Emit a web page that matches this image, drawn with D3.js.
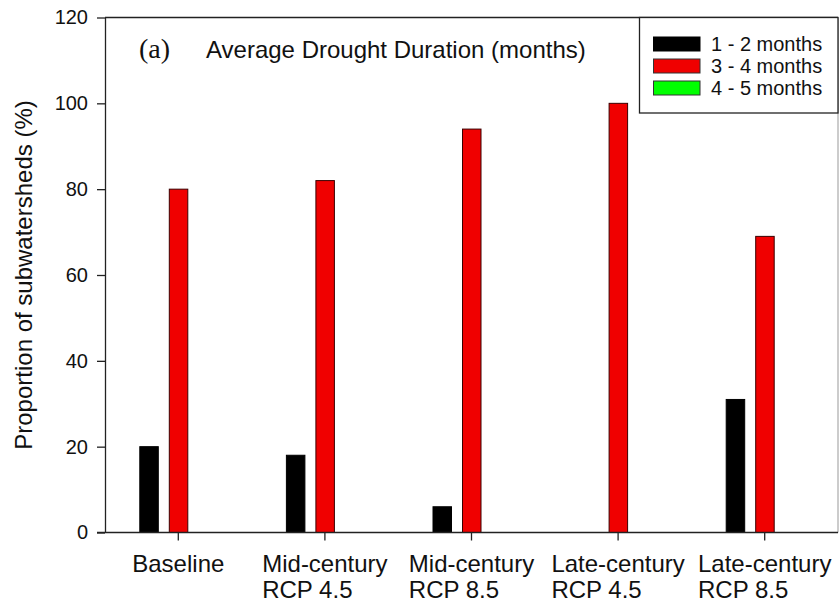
<!DOCTYPE html>
<html>
<head>
<meta charset="utf-8">
<script src="https://cdn.jsdelivr.net/npm/d3@7/dist/d3.min.js"></script>
<style>
  html, body { margin: 0; padding: 0; background: #fff; }
  svg { display: block; font-family: Arial, "Liberation Sans", Helvetica, sans-serif; }
</style>
</head>
<body>
<svg id="chart" width="839" height="607"></svg>
<script>
// Scenario groups on the x axis (two-line labels)
const categories = ["Baseline", "Mid-century RCP 4.5", "Mid-century RCP 8.5", "Late-century RCP 4.5", "Late-century RCP 8.5"];
const categoryLines = [["Baseline"], ["Mid-century", "RCP 4.5"], ["Mid-century", "RCP 8.5"], ["Late-century", "RCP 4.5"], ["Late-century", "RCP 8.5"]];

// Duration classes
const series = ["1 - 2 months", "3 - 4 months", "4 - 5 months"];
const seriesColors = ["#000000", "#f00000", "#00ff00"];

// Proportion of subwatersheds (%) per class, one value per scenario
const values1to2 = [20, 18, 6, 0, 31];
const values3to4 = [80, 82, 94, 100, 69];
const values4to5 = [0, 0, 0, 0, 0];
const seriesValues = [values1to2, values3to4, values4to5];

const yTicks = [0, 20, 40, 60, 80, 100, 120];

const svg = d3.select("#chart");
const plotLeft = 105, plotRight = 838, plotTop = 17.5, plotBottom = 532.5;

const x = d3.scaleBand().domain(categories).range([plotLeft, plotRight]).padding(0);
const xs = d3.scaleBand().domain(series).range([-44, 44.5]).padding(0);
const barW = 18.5;
const y = d3.scaleLinear().domain([0, 120]).range([plotBottom, plotTop]);

// Bars
const rows = [];
categories.forEach((c, i) => {
  series.forEach((s, j) => rows.push({ cat: c, ser: s, idx: j, v: seriesValues[j][i] }));
});
svg.append("g").selectAll("rect").data(rows.filter(d => d.v > 0)).join("rect")
  .attr("x", d => x(d.cat) + x.bandwidth() / 2 + xs(d.ser) + xs.bandwidth() / 2 - barW / 2)
  .attr("y", d => y(d.v))
  .attr("width", barW)
  .attr("height", d => y(0) - y(d.v))
  .attr("fill", d => seriesColors[d.idx])
  .attr("stroke", d => d.idx === 0 ? "#000" : "#3a0000")
  .attr("stroke-width", 1);

// Frame: top and right edges
svg.append("line").attr("x1", plotLeft).attr("x2", plotRight).attr("y1", plotTop).attr("y2", plotTop)
  .attr("stroke", "#222").attr("stroke-width", 1.3);
svg.append("line").attr("x1", plotRight).attr("x2", plotRight).attr("y1", plotTop).attr("y2", plotBottom)
  .attr("stroke", "#999").attr("stroke-width", 1);

// Y axis
const yAxis = svg.append("g").attr("transform", `translate(${plotLeft},0)`)
  .call(d3.axisLeft(y).tickValues(yTicks).tickSize(8).tickPadding(9).tickSizeOuter(0));
yAxis.selectAll("text").attr("font-size", 20).attr("fill", "#111").style("font-family", "Arial, 'Liberation Sans', sans-serif");
yAxis.selectAll("line, path").attr("stroke", "#222").attr("stroke-width", 1.3);

// X axis
const xAxis = svg.append("g").attr("transform", `translate(0,${plotBottom})`)
  .call(d3.axisBottom(x).tickSize(8).tickSizeOuter(0).tickFormat(""));
xAxis.select(".domain").attr("d", `M${plotLeft - 8},0H${plotRight}`);
xAxis.selectAll("line, path").attr("stroke", "#222").attr("stroke-width", 1.3);

// Two-line category labels, block centred on each tick, lines left-aligned
categories.forEach((c, i) => {
  const cx = x(c) + x.bandwidth() / 2;
  const t = svg.append("text").attr("font-size", 24).attr("fill", "#111");
  const lines = categoryLines[i];
  lines.forEach((ln, k) => {
    t.append("tspan").attr("y", 572 + k * 26).text(ln);
  });
  const w = d3.max(t.selectAll("tspan").nodes(), n => n.getComputedTextLength());
  t.selectAll("tspan").attr("x", cx - w / 2);
});

// Y axis title
svg.append("text")
  .attr("transform", `translate(31.5,${(98 + 452) / 2}) rotate(-90)`)
  .attr("text-anchor", "middle")
  .attr("font-size", 24).attr("fill", "#111")
  .text("Proportion of subwatersheds (%)");

// Panel title
svg.append("text").attr("x", 139).attr("y", 58)
  .attr("font-size", 28).attr("fill", "#111")
  .style("font-family", "'Liberation Serif', 'Times New Roman', serif")
  .text("(a)");
svg.append("text").attr("x", 206).attr("y", 58)
  .attr("font-size", 24).attr("fill", "#111")
  .text("Average Drought Duration (months)");

// Legend
const lg = svg.append("g");
lg.append("rect").attr("x", 639.5).attr("y", plotTop).attr("width", plotRight - 639.5).attr("height", 113 - plotTop)
  .attr("fill", "#fff").attr("stroke", "#222").attr("stroke-width", 1.3);
series.forEach((s, j) => {
  lg.append("rect").attr("x", 653.5).attr("y", 37 + j * 22).attr("width", 46.5).attr("height", 14)
    .attr("fill", seriesColors[j]).attr("stroke", j === 0 ? "#000" : "#333").attr("stroke-width", 1);
  lg.append("text").attr("x", 711).attr("y", 51 + j * 22)
    .attr("font-size", 20).attr("fill", "#111").text(s);
});
</script>
</body>
</html>
